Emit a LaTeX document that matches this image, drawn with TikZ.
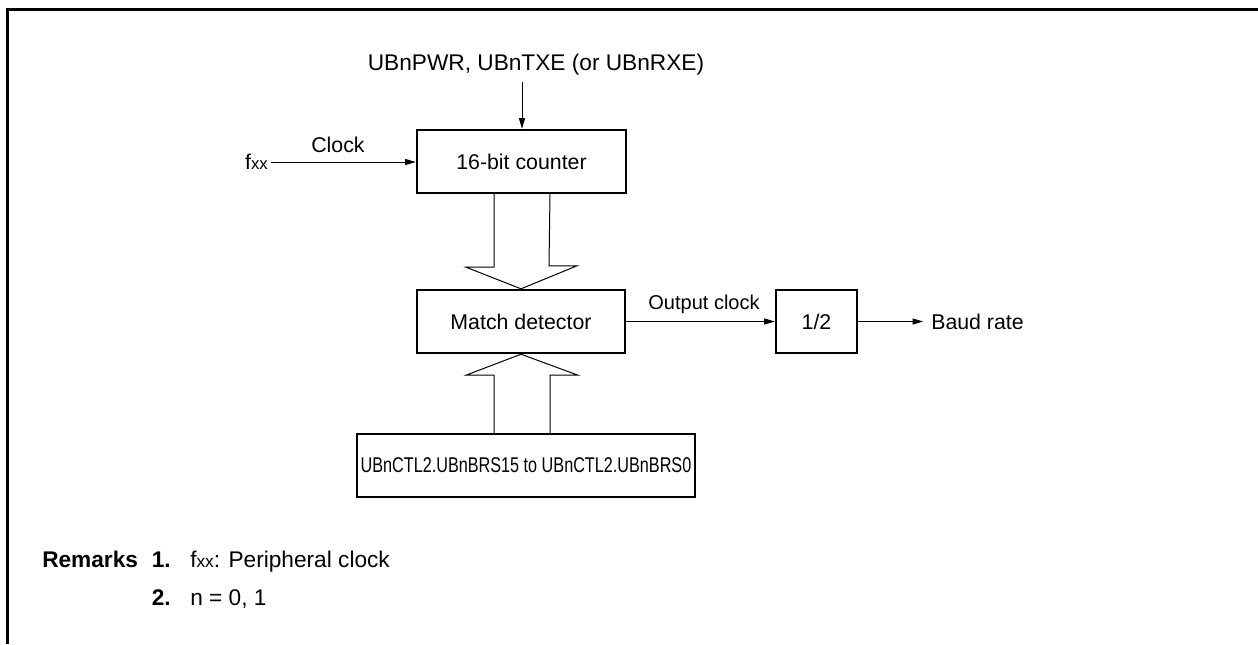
\documentclass[tikz,border=0pt]{standalone}
\usepackage{fontspec}
\setmainfont{Liberation Sans}
\usetikzlibrary{arrows.meta,calc}
\begin{document}
\begin{tikzpicture}[x=0.75pt,y=-0.75pt,
  box/.style={draw,line width=1.8pt,inner sep=0pt,minimum height=47.25pt,font=\fontsize{16}{19}\selectfont},
  lbl/.style={inner sep=0pt,font=\fontsize{16}{19}\selectfont},
  biglbl/.style={inner sep=0pt,font=\fontsize{17}{20}\selectfont},
  numlbl/.style={inner sep=0pt,font=\fontsize{17}{20}\selectfont\bfseries},
  conn/.style={line width=0.75pt,-{Triangle[length=8pt,width=4.5pt]}},
  hollow/.style={line width=0.75pt,line join=miter}]
\useasboundingbox (0,0) rectangle (1258,644);
\draw[line width=2.25pt] (7.5,644) -- (7.5,9.5) -- (1258,9.5);
% blocks
\node[box,minimum width=156.75pt] (counter) at (521.5,161.5) {16-bit counter};
\node[box,minimum width=156pt] (match) at (521,321.5) {Match detector};
\node[box,minimum width=60.75pt] (half) at (816.5,321.5) {1/2};
\node[box,minimum width=253.5pt] (brs) at (526,465.5) {\scalebox{0.76}[1]{UBnCTL2.UBnBRS15 to UBnCTL2.UBnBRS0}};
% labels
\node[biglbl] (pwr) at (536,65) {UBnPWR, UBnTXE (or UBnRXE)};
\node[lbl,anchor=east] (fxx) at (268,162) {f{\fontsize{12.5}{15}\selectfont xx}};
\node[lbl] (clk) at (338,145) {Clock};
\node[lbl,font=\fontsize{15}{18}\selectfont] (oclk) at (704,304) {Output clock};
\node[lbl,anchor=west] (baud) at (931,322) {Baud rate};
% connectors
\coordinate (pwrtop) at (522,82);
\draw[conn] (pwrtop) -- (pwrtop |- counter.north);
\draw[conn] (fxx.east) ++(3,0) coordinate (fxxs) -- (fxxs -| counter.west);
\draw[conn] (match.east) -- (half.west);
\draw[conn] (half.east) -- ++(65,0) coordinate (baudtip);
% hollow arrows
\draw[hollow] ($(counter.south)+(-27.5,0)$) -- ++(0,73) -- ++(-28,0) -- (match.north)
  -- ($(match.north)+(56,-23)$) -- ++(-28,0) -- ($(counter.south)+(28.5,0)$);
\draw[hollow] ($(brs.north)+(-32,0)$) -- ($(match.south)+(-27,21)$) -- ++(-28,0) -- (match.south)
  -- ($(match.south)+(57,21)$) -- ++(-28,0) -- ($(brs.north)+(24,0)$);
% remarks
\node[numlbl,anchor=base west] (rem) at (42,567) {Remarks};
\node[numlbl,anchor=base east] (n1) at (171,567) {1.};
\node[biglbl,anchor=base west] (t1) at (190,567) {f{\fontsize{13}{15}\selectfont xx}: Peripheral clock};
\node[numlbl,anchor=base east] (n2) at (171,605) {2.};
\node[biglbl,anchor=base west] (t2) at (190,605) {n = 0, 1};
\end{tikzpicture}
\end{document}
